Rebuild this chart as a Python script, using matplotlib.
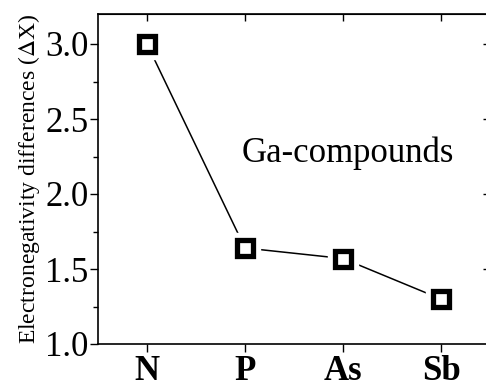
import matplotlib.pyplot as plt
from matplotlib.ticker import MultipleLocator

plt.rcParams['font.family'] = ['Liberation Serif', 'DejaVu Serif']
plt.rcParams['mathtext.fontset'] = 'stix'

elements = ['N', 'P', 'As', 'Sb']
delta_x = [3.00, 1.64, 1.57, 1.30]
pos = list(range(len(elements)))

fig = plt.figure(figsize=(4.86, 3.88), dpi=100)
# right spine sits just past the figure edge
ax = fig.add_axes([98 / 486, 44 / 388, 392 / 486, 330 / 388])

ax.plot(pos, delta_x, color='black', lw=1.1, zorder=1)
# white halo behind the open squares leaves a small gap at the line ends
ax.plot(pos, delta_x, ls='none', marker='s', ms=22, mfc='white', mec='white', zorder=2)
ax.plot(pos, delta_x, ls='none', marker='s', ms=11.4, mfc='white', mec='black', mew=3.8, zorder=3)

ax.set_xlim(-0.5, 3.5)
ax.set_ylim(1.0, 3.2)
ax.set_xticks(pos)
ax.set_xticklabels(elements, fontsize=25, fontweight='bold')
ax.yaxis.set_minor_locator(MultipleLocator(0.25))
ax.set_yticks([1.0, 1.5, 2.0, 2.5, 3.0])
ax.set_yticklabels(['1.0', '1.5', '2.0', '2.5', '3.0'], fontsize=25)

ax.tick_params(axis='both', which='major', direction='out', length=6, width=1, pad=1)
ax.tick_params(axis='y', which='minor', direction='out', length=3.5, width=1)
ax.tick_params(axis='x', which='major', pad=2)

# inward ticks on top and right edges
top = ax.secondary_xaxis('top')
top.set_xticks(pos)
top.set_xticklabels([])
top.tick_params(direction='in', length=5, width=1)
right = ax.secondary_yaxis('right')
right.set_yticks([1.5, 2.0, 2.5, 3.0])
right.set_yticklabels([])
right.tick_params(direction='in', length=5, width=1)

for s in ax.spines.values():
    s.set_linewidth(1.2)

ax.set_ylabel('Electronegativity differences ($\\Delta$X)', fontsize=17, labelpad=2)
ax.text(0.97, 2.27, 'Ga-compounds', fontsize=25, ha='left', va='center')

fig.savefig('out.png', dpi=100)
